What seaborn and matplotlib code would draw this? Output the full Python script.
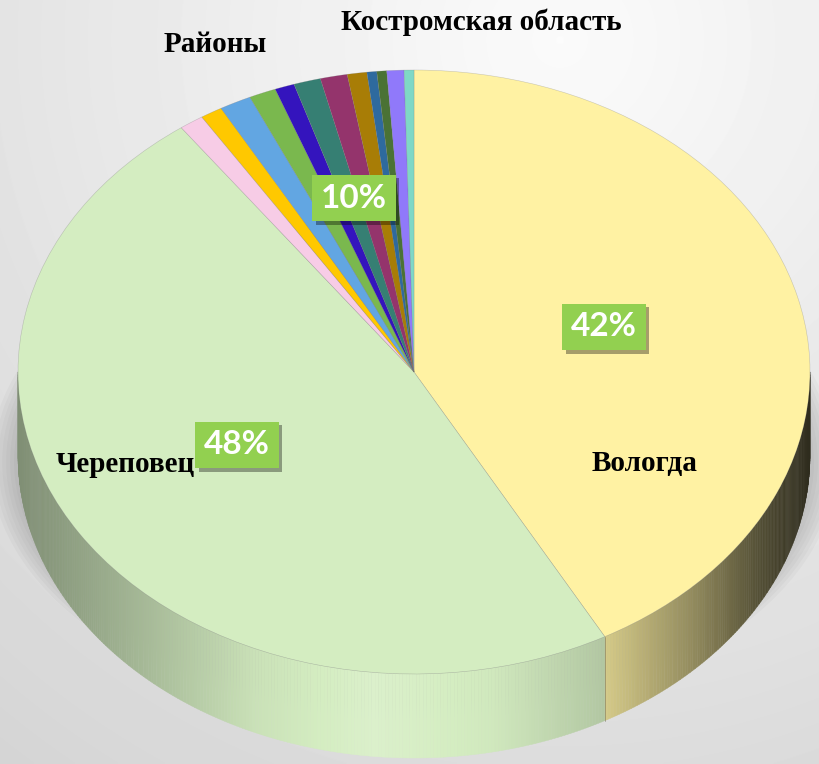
import numpy as np
import pandas as pd
import seaborn as sns
import matplotlib
matplotlib.use("Agg")
import matplotlib.pyplot as plt
from matplotlib.collections import PolyCollection
from matplotlib.patches import Ellipse
import matplotlib.patheffects as pe

# ---------------- data ----------------
city_names = ["Вологда", "Череповец"]
city_values = [42, 48]
district_group_name = "Районы"
district_values = [1.0, 0.9, 1.3, 1.1, 0.8, 1.1, 1.1, 0.8, 0.4, 0.4, 0.7, 0.4]
extra_title = "Костромская область"

city_colors = ["#FFF2A3", "#D4EDC1"]
district_colors = ["#F7CCE6", "#FFC800", "#62A6E2", "#7AB84E", "#3414BD", "#367F73",
                   "#94346C", "#A87D06", "#2E6A9E", "#4A7235", "#9079FA", "#7FD8C6"]

# ---------------- setup ----------------
sns.set_theme(style="white")
plt.rcParams["font.family"] = ["DejaVu Sans"]

W, H = 819, 764
fig = plt.figure(figsize=(W / 100, H / 100), dpi=100)
ax = fig.add_axes([0, 0, 1, 1])

CX, CY, RX, RY = 414, 372, 396, 302   # pixel geometry of the top ellipse
DEPTH = 84 / RY                        # thickness of the pie in data units


def px(x, y):
    return ((x - CX) / RX, (CY - y) / RY)


xlim = (px(0, 0)[0], px(W, 0)[0])
ylim = (px(0, H)[1], px(0, 0)[1])

# background gradient
yy, xx = np.mgrid[0:H, 0:W]
dist = np.hypot(xx - 560, yy - 40)
bg = np.clip(0.985 - 0.15 * dist / 900, 0, 1)
ax.imshow(bg, cmap="gray", vmin=0, vmax=1, extent=(xlim[0], xlim[1], ylim[0], ylim[1]),
          origin="upper", aspect="auto", zorder=0, interpolation="bilinear")

# soft shadow under the pie
for k in range(8):
    s = 1.0 + 0.01 * k
    ax.add_patch(Ellipse((0.0, -DEPTH - 0.02), 2 * s, 2 * s * 0.8, color="black",
                         alpha=0.025, lw=0, zorder=1))

values = city_values + district_values
colors = city_colors + district_colors
total = float(sum(values))

# ---------------- side of the 3D pie ----------------
shade_c = [-1.0, -0.75, -0.4, -0.1, 0.2, 0.48, 0.7, 0.88, 1.0]
shade_s = [0.60, 0.74, 0.95, 1.04, 0.98, 0.84, 0.58, 0.32, 0.18]


def shaded(base, c):
    s = np.interp(c, shade_c, shade_s)
    rgb = np.array(matplotlib.colors.to_rgb(base))
    if s <= 1:
        return tuple(rgb * s)
    return tuple(rgb + (1 - rgb) * min(1.0, (s - 1) * 4))


polys, pcols = [], []
start = 90.0
cum = 0.0
edges_deg = []
for v, col in zip(values, colors):
    b = start - 360.0 * cum / total
    cum += v
    a = start - 360.0 * cum / total
    edges_deg.append(a)
    for shift in (0.0, 360.0, -360.0):
        lo, hi = max(a + shift, -180.0), min(b + shift, 0.0)
        if hi - lo > 1e-6:
            ts = np.radians(np.linspace(lo, hi, int((hi - lo) * 2) + 2))
            for t1, t2 in zip(ts[:-1], ts[1:]):
                polys.append([(np.cos(t1), np.sin(t1)), (np.cos(t2), np.sin(t2)),
                              (np.cos(t2), np.sin(t2) - DEPTH), (np.cos(t1), np.sin(t1) - DEPTH)])
                pcols.append(shaded(col, np.cos((t1 + t2) / 2)))

ax.add_collection(PolyCollection(polys, facecolors=pcols, edgecolors=pcols, linewidths=0.3, zorder=2))

# vertical seam lines on the side
for e in edges_deg:
    t = np.radians(e)
    if np.sin(t) < 0:
        ax.plot([np.cos(t), np.cos(t)], [np.sin(t), np.sin(t) - DEPTH],
                color=(0.35, 0.35, 0.3, 0.5), lw=0.6, zorder=2.5)

# ---------------- top face ----------------
wedges, _ = ax.pie(values, colors=colors, startangle=90, counterclock=False, radius=1,
                   center=(0, 0), frame=False,
                   wedgeprops=dict(linewidth=0.4, edgecolor=(0.45, 0.45, 0.45, 0.35)))
for w in wedges:
    w.set_zorder(3)

ax.set_aspect("auto")
ax.set_xlim(*xlim)
ax.set_ylim(*ylim)
ax.axis("off")

# ---------------- labels ----------------
pct_vals = [round(100 * city_values[0] / total), round(100 * city_values[1] / total),
            round(100 * sum(district_values) / total)]
pct_pos = [(604, 327), (237, 445), (354, 198)]
for p, (x, y) in zip(pct_vals, pct_pos):
    t = ax.text(*px(x, y), f"{p}%", ha="center", va="center", color="white",
                fontsize=24, fontweight="bold", family="Lato", zorder=6,
                bbox=dict(boxstyle="square,pad=0.26", fc="#92D050", ec="none"))
    t.get_bbox_patch().set_path_effects([
        pe.withSimplePatchShadow(offset=(2.5, -2.5), shadow_rgbFace="black", alpha=0.35),
        pe.Normal()])

name_kw = dict(ha="center", va="center", fontsize=21, fontweight="bold",
               family="Liberation Serif", color="black", zorder=6)
ax.text(*px(644, 463), city_names[0], **name_kw)
ax.text(*px(125, 465), city_names[1], **name_kw)
ax.text(*px(215, 45), district_group_name, **name_kw)
ax.text(*px(481, 22), extra_title, **name_kw)

fig.savefig("out.png", dpi=100)
